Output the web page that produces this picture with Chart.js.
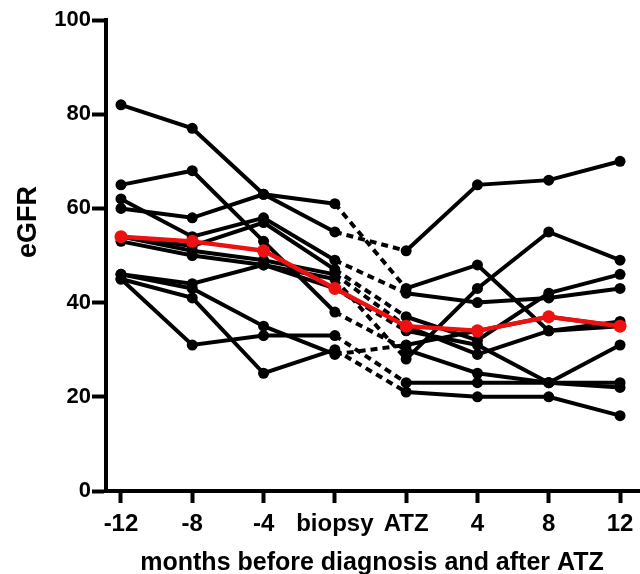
<!DOCTYPE html>
<html>
<head>
<meta charset="utf-8">
<script src="https://cdn.jsdelivr.net/npm/chart.js@4"></script>
<style>
  html, body { margin: 0; padding: 0; background: #fff; }
  #wrap { width: 640px; height: 574px; position: relative; }
</style>
</head>
<body>
<div id="wrap"><canvas id="chart"></canvas></div>
<script>
// --- data ---
const timepoints = ['-12', '-8', '-4', 'biopsy', 'ATZ', '4', '8', '12'];
const yTicks = [0, 20, 40, 60, 80, 100];

// one array per patient (eGFR at each timepoint)
const patient1  = [82, 77, 63, 61, 43, 48, 34, 35];
const patient2  = [60, 58, 63, 55, 51, 65, 66, 70];
const patient3  = [65, 68, 53, 38, 30, 25, 23, 22];
const patient4  = [62, 54, 58, 49, 42, 40, 41, 43];
const patient5  = [54, 52, 57, 47, 37, 32, 42, 46];
const patient6  = [54, 51, 49, 46, 35, 29, 34, 36];
const patient7  = [53, 50, 48, 45, 28, 43, 55, 49];
const patient8  = [46, 43, 35, 29, 31, 34, 37, 35];
const patient9  = [45, 41, 25, 30, 21, 20, 20, 16];
const patient10 = [45, 31, 33, 33, 23, 23, 23, 31];
const patient11 = [46, 44, 48, 43, 34, 31, 23, 23];

const meanValues = [54, 53, 51, 43, 35, 34, 37, 35];

const patients = [patient1, patient2, patient3, patient4, patient5, patient6,
                  patient7, patient8, patient9, patient10, patient11];

const FONT = '"Liberation Sans", Arial, sans-serif';

function toPoints(arr) {
    return arr.map((v, i) => ({ x: i, y: v }));
}

// dashed segment between biopsy (3) and ATZ (4)
const gapSegment = {
    borderDash: ctx => ctx.p0DataIndex === 3 ? [7, 5] : undefined
};

const datasets = [{
    label: 'mean',
    data: toPoints(meanValues),
    borderColor: '#ee1111',
    backgroundColor: '#ee1111',
    borderWidth: 4.5,
    pointRadius: 6.5,
    pointBorderWidth: 0,
    order: 0
}];

patients.forEach((p, i) => {
    datasets.push({
        label: 'patient ' + (i + 1),
        data: toPoints(p),
        borderColor: '#000',
        backgroundColor: '#000',
        borderWidth: 4,
        pointRadius: 5.5,
        pointBorderWidth: 0,
        segment: gapSegment,
        order: 1
    });
});

// axis titles, placed like the original figure
const titlesPlugin = {
    id: 'titles',
    afterDraw(chart) {
        const c = chart.ctx;
        c.save();
        c.fillStyle = '#000';
        c.font = 'bold 27px ' + FONT;
        c.textAlign = 'center';
        c.textBaseline = 'middle';
        c.translate(29, 222);
        c.rotate(-Math.PI / 2);
        c.fillText('eGFR', 0, 0);
        c.restore();

        c.save();
        c.fillStyle = '#000';
        c.font = 'bold 25px ' + FONT;
        c.textAlign = 'center';
        c.textBaseline = 'middle';
        c.fillText('months before diagnosis and after ATZ', 372, 563);
        c.restore();
    }
};

new Chart(document.getElementById('chart'), {
    type: 'line',
    data: { datasets: datasets },
    options: {
        responsive: true,
        maintainAspectRatio: false,
        animation: false,
        layout: {
            autoPadding: false,
            padding: { top: 20, right: 0, left: 0, bottom: 0 }
        },
        plugins: {
            legend: { display: false },
            tooltip: { enabled: false }
        },
        scales: {
            x: {
                type: 'linear',
                min: -0.21,
                max: 7.28,
                afterBuildTicks: scale => {
                    scale.ticks = timepoints.map((_, i) => ({ value: i }));
                },
                afterFit: scale => {
                    scale.height = 83;
                    scale.paddingRight = 0;
                    scale.paddingLeft = 0;
                },
                ticks: {
                    callback: v => timepoints[v],
                    color: '#000',
                    font: { family: FONT, size: 24, weight: 'bold' },
                    padding: 7,
                    maxRotation: 0,
                    autoSkip: false
                },
                grid: {
                    drawOnChartArea: false,
                    color: '#000',
                    tickLength: 12,
                    tickWidth: 4
                },
                border: { color: '#000', width: 4 }
            },
            y: {
                min: 0,
                max: 100,
                afterBuildTicks: scale => {
                    scale.ticks = yTicks.map(v => ({ value: v }));
                },
                afterFit: scale => { scale.width = 106; },
                ticks: {
                    color: '#000',
                    font: { family: FONT, size: 22, weight: 'bold' },
                    padding: 1
                },
                grid: {
                    drawOnChartArea: false,
                    color: '#000',
                    tickLength: 14,
                    tickWidth: 4
                },
                border: { color: '#000', width: 4 }
            }
        }
    },
    plugins: [titlesPlugin]
});
</script>
</body>
</html>
